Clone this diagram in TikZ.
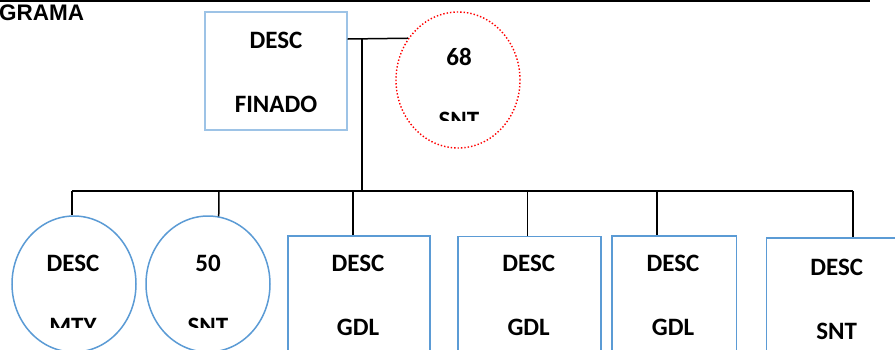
\documentclass[tikz,border=0pt]{standalone}
\usepackage{fontspec}
\setmainfont{Carlito}
\newfontfamily\arialfont{Liberation Sans}
\usetikzlibrary{shapes.geometric}
\definecolor{boxblue}{HTML}{5B9BD5}
\definecolor{lightblue}{HTML}{9DC3E6}
\tikzset{
  conn/.style={draw=black, line width=1.5pt},
  bluebox/.style={draw=boxblue, line width=1.5pt, rectangle, inner sep=0pt},
  lightbox/.style={draw=lightblue, line width=1.3pt, rectangle, inner sep=0pt},
  blueoval/.style={draw=boxblue, line width=1.5pt, ellipse, inner sep=0pt, minimum width=124pt, minimum height=136pt},
  redoval/.style={draw=red, line width=1.4pt, dotted, ellipse, inner sep=0pt, minimum width=124pt, minimum height=136pt},
  lbl/.style={font=\fontsize{25}{30}\selectfont\bfseries, inner sep=0pt, text=black},
  cut/.style={font=\fontsize{25}{30}\selectfont\bfseries, inner sep=0pt, text=black, anchor=north},
}
\begin{document}
\begin{tikzpicture}[x=1pt,y=-1pt]
\useasboundingbox (0,0) rectangle (895,349);
\clip (0,0) rectangle (895,349);
\fill[white] (0,0) rectangle (895,349);
% top rule
\coordinate (tl) at (0,1);
\coordinate (tr) at (870,1);
\draw[line width=2pt] (tl) -- (tr);
\node[anchor=north west, inner sep=0pt, font=\arialfont\fontsize{22.5}{27}\selectfont\bfseries] (title) at (-1,5) {GRAMA};
% top row
\node[lightbox, minimum width=142pt, minimum height=118pt] (finado) at (276,71) {};
\node[lbl] (t1a) at (276,40) {DESC};
\node[lbl] (t1b) at (276,104) {FINADO};
\node[redoval] (c68) at (458,80) {};
\node[lbl] (t2a) at (459,57) {68};
\begin{scope}
\clip (400,100) rectangle (520,120);
\node[cut] (t2b) at (459,111.7) {SNT};
\end{scope}
% junctions
\coordinate (j1) at (362,39);
\coordinate (j2) at (362,191);
\coordinate (busl) at (72,191);
\coordinate (busr) at (853,191);
\draw[conn] (finado.east |- j1) -- (c68.140);
\draw[conn] (j1) -- (j2);
\draw[conn] (busl) -- (busr);
% bottom row shapes
\node[blueoval] (mty) at (74,284) {};
\node[blueoval] (c50) at (208,284) {};
\node[bluebox, minimum width=141.7pt, minimum height=165pt, anchor=north west] (gdl1) at (287.3,235) {};
\node[bluebox, minimum width=142.7pt, minimum height=165pt, anchor=north west] (gdl2) at (457.3,235.7) {};
\node[bluebox, minimum width=124.7pt, minimum height=165pt, anchor=north west] (gdl3) at (611,235) {};
\node[bluebox, minimum width=142pt, minimum height=165pt, anchor=north west] (snt) at (765.7,237.3) {};
% drops
\coordinate (d1) at (72,191);
\coordinate (d2) at (219,191);
\coordinate (d3) at (353,191);
\coordinate (d4) at (527.7,191);
\coordinate (d5) at (657,191);
\coordinate (d6) at (853,191);
\draw[conn] (d1) -- (mty.north -| d1);
\draw[conn] (d2) -- (c50.81);
\draw[conn] (d3) -- (gdl1.north -| d3);
\draw[conn] (d4) -- (gdl2.north -| d4);
\draw[conn] (d5) -- (gdl3.north -| d5);
\draw[conn] (d6) -- (snt.north -| d6);
% bottom labels
\node[lbl] (b1a) at (73,263) {DESC};
\node[lbl] (b2a) at (208,263) {50};
\begin{scope}
\clip (20,300) rectangle (260,327);
\node[cut] (b1b) at (73,318.3) {MTY};
\node[cut] (b2b) at (208,317.7) {SNT};
\end{scope}
\node[lbl] (b3a) at (358,263) {DESC};
\node[lbl] (b3b) at (358,327.7) {GDL};
\node[lbl] (b4a) at (528.7,263) {DESC};
\node[lbl] (b4b) at (528.7,327.7) {GDL};
\node[lbl] (b5a) at (673,263) {DESC};
\node[lbl] (b5b) at (673,327.7) {GDL};
\node[lbl] (b6a) at (836.7,267) {DESC};
\node[lbl] (b6b) at (836.7,331.7) {SNT};
\end{tikzpicture}
\end{document}
